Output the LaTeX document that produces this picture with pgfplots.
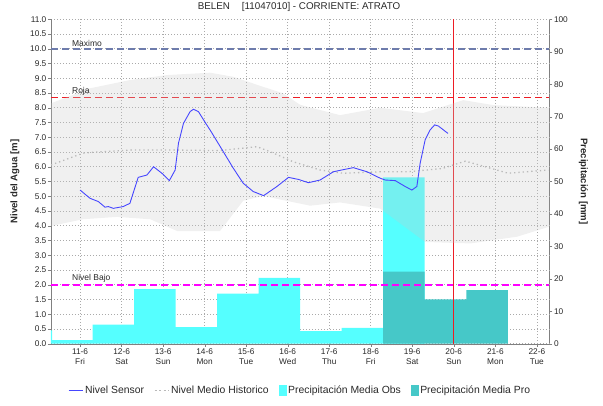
\documentclass[border=0pt]{standalone}
\usepackage{fontspec}
\setmainfont{Liberation Sans}
\usepackage{pgfplots}
\usepackage{pgfplotstable}
\pgfplotsset{compat=1.18}

\definecolor{obs}{RGB}{85,255,255}
\definecolor{pro}{RGB}{70,200,200}
\definecolor{sensorc}{RGB}{70,70,255}
\definecolor{maxc}{RGB}{110,124,172}
\definecolor{rojac}{cmyk}{0,1,1,0}
\definecolor{bajoc}{RGB}{255,0,255}
\definecolor{gridc}{RGB}{170,170,170}
\definecolor{histc}{RGB}{185,185,185}
\definecolor{bandc}{RGB}{200,200,200}
\definecolor{axisc}{RGB}{128,128,128}
\definecolor{txt}{RGB}{40,40,40}

\pgfplotstableread{
x mm
10.20 4.1
10.33 1.1
11.3 5.9
12.3 16.8
13.3 5.1
14.3 15.4
15.3 20.3
16.3 3.9
17.3 4.9
18.3 51.3
19.3 51.3
}\obs

\pgfplotstableread{
x mm
18.3 22.2
19.3 13.7
20.3 16.5
21.3 16.5
}\pro

% historical range: upper edge left to right, then lower edge right to left
\pgfplotstableread{
x y
10.3 8.15
11.24 8.66
12.2 8.94
13.1 9.11
14.13 9.19
14.69 9.05
15.41 8.71
15.89 8.49
16.3 8.1
17.26 7.75
18.23 8.0
19.26 7.82
20.23 8.26
20.95 8.09
22.3 8.0
22.3 3.97
21.53 3.63
20.40 3.40
19.31 3.45
18.23 4.58
17.26 4.79
16.54 4.68
15.99 4.84
15.41 5.01
14.93 4.85
14.37 3.82
13.34 3.82
12.69 4.22
11.89 4.30
11.07 4.22
10.3 3.99
}\band

\pgfplotstableread{
x y
10.3 6.06
11.07 6.46
11.31 6.49
12.28 6.57
13.1 6.57
14.37 6.55
15.26 6.68
15.58 6.51
16.13 6.17
16.78 5.89
17.34 5.78
18.23 5.83
18.9 5.83
19.72 5.94
20.28 6.19
20.76 6.0
21.31 5.78
22.28 5.89
}\hist

\pgfplotstableread{
x y
11.00 5.21
11.24 4.93
11.44 4.82
11.60 4.63
11.68 4.65
11.80 4.59
12.04 4.65
12.20 4.76
12.40 5.64
12.61 5.72
12.77 6.00
12.97 5.78
13.15 5.53
13.29 5.89
13.37 6.80
13.49 7.47
13.65 7.87
13.73 7.95
13.85 7.87
14.05 7.42
14.13 7.25
14.45 6.51
14.69 5.95
14.93 5.44
15.17 5.16
15.42 5.02
15.74 5.33
16.02 5.64
16.26 5.57
16.50 5.46
16.78 5.55
17.10 5.83
17.30 5.89
17.58 5.97
17.91 5.83
18.23 5.61
18.35 5.55
18.59 5.53
18.83 5.33
18.99 5.21
19.11 5.33
19.19 6.12
19.31 6.91
19.43 7.25
19.54 7.42
19.63 7.38
19.86 7.13
}\sensor

\begin{document}
\begin{tikzpicture}
\useasboundingbox (-51pt,-61.3pt) rectangle (552pt,343.7pt);

% right axis (mm)
\begin{axis}[
  scale only axis, width=498.3pt, height=324.4pt,
  at={(0,0)}, anchor=south west,
  xmin=10.3, xmax=22.3, ymin=0, ymax=100,
  axis x line=none, axis y line*=right,
  y axis line style={axisc, -},
  ytick={0,10,...,100},
  tick align=outside, major tick length=3pt,
  ytick style={axisc},
  yticklabel style={font=\fontsize{8.3}{9}\selectfont, text=txt, inner sep=1.5pt},
  /pgf/number format/assume math mode=true,
]
\addplot[draw=none, forget plot] coordinates {(11,0) (12,1)};
\end{axis}

% main axis (m)
\begin{axis}[
  scale only axis, width=498.3pt, height=324.4pt,
  at={(0,0)}, anchor=south west,
  xmin=10.3, xmax=22.3, ymin=0, ymax=11,
  axis y line*=left, axis x line*=bottom,
  axis line style={axisc, -},
  ytick={0,0.5,...,11},
  xtick={11,...,22},
  xticklabels={11-6\\Fri,12-6\\Sat,13-6\\Sun,14-6\\Mon,15-6\\Tue,16-6\\Wed,17-6\\Thu,18-6\\Fri,19-6\\Sat,20-6\\Sun,21-6\\Mon,22-6\\Tue},
  xticklabel style={align=center, font=\fontsize{8.3}{10}\selectfont, text=txt, inner sep=2pt},
  yticklabel style={font=\fontsize{8.3}{9}\selectfont, text=txt, inner sep=1.5pt,
    /pgf/number format/.cd, fixed, fixed zerofill, precision=1},
  /pgf/number format/assume math mode=true,
  minor x tick num=23,
  tick align=outside, major tick length=3pt, minor tick length=1.5pt,
  tick style={axisc},
  minor x tick style={black!70},
  grid=major,
  grid style={gridc, dash pattern=on 1pt off 2pt, line width=0.6pt},
  legend style={at={(0.5,-0.143)}, anchor=center, draw=none, fill=none,
    legend columns=4, font=\fontsize{10.4}{11}\selectfont, text=txt,
    /tikz/every even column/.append style={column sep=8pt}},
  legend cell align=left,
]
% bars
\addplot[fill=obs, draw=none, const plot mark left, forget plot]
  table[x=x, y expr=\thisrow{mm}*0.11] {\obs} \closedcycle;
\addplot[fill=pro, draw=none, const plot mark left, forget plot]
  table[x=x, y expr=\thisrow{mm}*0.11] {\pro} \closedcycle;
% thresholds and current-time line
\addplot[draw=maxc, line width=1.6pt, dash pattern=on 7pt off 4pt, forget plot] coordinates {(10.3,10) (22.3,10)};
\addplot[draw=rojac, line width=1.6pt, dash pattern=on 7pt off 4pt, forget plot] coordinates {(10.3,8.35) (22.3,8.35)};
\addplot[draw=bajoc, line width=1.6pt, dash pattern=on 7pt off 4pt, forget plot] coordinates {(10.3,2.0) (22.3,2.0)};
\addplot[draw=rojac, line width=0.8pt, forget plot] coordinates {(20,0) (20,11)};
% band
\addplot[fill=bandc, fill opacity=0.27, draw=none, forget plot] table {\band} -- cycle;
% historical mean
\addplot[draw=histc, line width=1.3pt, dash pattern=on 1.3pt off 3pt, forget plot] table {\hist};
% sensor
\addplot[draw=sensorc, line width=0.9pt, forget plot] table {\sensor};

\node[anchor=south west, font=\fontsize{8.5}{9}\selectfont, text=txt, inner sep=1pt] at (axis cs:10.78,10.03) {Maximo};
\node[anchor=south west, font=\fontsize{8.5}{9}\selectfont, text=txt, inner sep=1pt] at (axis cs:10.78,8.38) {Roja};
\node[anchor=south west, font=\fontsize{8.5}{9}\selectfont, text=txt, inner sep=1pt] at (axis cs:10.78,2.03) {Nivel Bajo};

\addlegendimage{legend image code/.code={\draw[sensorc, line width=0.9pt] (0pt,0pt) -- (14pt,0pt);}}
\addlegendentry{Nivel Sensor}
\addlegendimage{legend image code/.code={\draw[histc, line width=1pt, dash pattern=on 2pt off 2.5pt] (0pt,0pt) -- (14pt,0pt);}}
\addlegendentry{Nivel Medio Historico}
\addlegendimage{legend image code/.code={\fill[obs] (0pt,-5pt) rectangle (7pt,5pt);}}
\addlegendentry{Precipitación Media Obs}
\addlegendimage{legend image code/.code={\fill[pro] (0pt,-5pt) rectangle (7pt,5pt);}}
\addlegendentry{Precipitación Media Pro}
\end{axis}

\node[font=\fontsize{9.8}{11}\selectfont, text=txt] at (248pt,336.5pt) {BELEN\hspace{12pt}[11047010] - CORRIENTE: ATRATO};
\node[rotate=90, font=\bfseries\fontsize{9.6}{11}\selectfont, text=txt] at (-36pt,162.2pt) {Nivel del Agua [m]};
\node[rotate=-90, font=\bfseries\fontsize{9.6}{11}\selectfont, text=txt] at (532.5pt,162.2pt) {Precipitación [mm]};
\end{tikzpicture}
\end{document}
